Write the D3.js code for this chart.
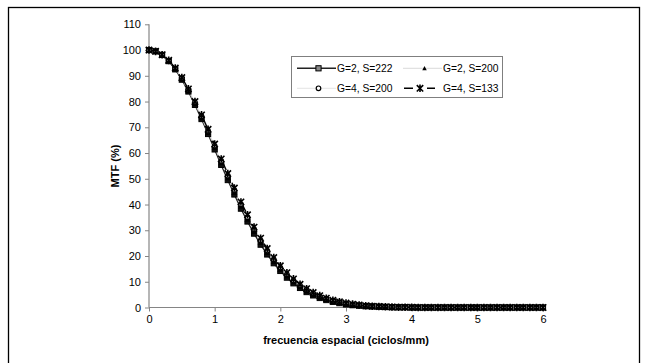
<!DOCTYPE html>
<html><head><meta charset="utf-8">
<script src="https://cdn.jsdelivr.net/npm/d3@7/dist/d3.min.js"></script>
<style>body{margin:0;background:#fff}svg{display:block}text{font-family:"Liberation Sans",Arial,sans-serif}</style>
</head><body><svg id="c" width="647" height="363"></svg>
<script>
const freq = [0,0.1,0.2,0.3,0.4,0.5,0.6,0.7,0.8,0.9,
1,1.1,1.2,1.3,1.4,1.5,1.6,1.7,1.8,1.9,
2,2.1,2.2,2.3,2.4,2.5,2.6,2.7,2.8,2.9,
3,3.1,3.2,3.3,3.4,3.5,3.6,3.7,3.8,3.9,
4,4.1,4.2,4.3,4.4,4.5,4.6,4.7,4.8,4.9,
5,5.1,5.2,5.3,5.4,5.5,5.6,5.7,5.8,5.9,6];
const g2s222 = [100,99.5,98.1,95.7,92.5,88.5,83.9,78.7,73.2,67.4,
61.4,55.4,49.5,43.9,38.4,33.4,28.7,24.4,20.6,17.2,
14.2,11.6,9.4,7.6,6.0,4.7,3.7,2.9,2.2,1.7,
1.2,0.9,0.7,0.5,0.4,0.3,0.2,0.1,0.1,0.1,
0,0,0,0,0,0,0,0,0,0,
0,0,0,0,0,0,0,0,0,0,0];
const g2s200 = [100,99.5,98.1,95.8,92.7,88.8,84.2,79.1,73.7,68.0,
62.1,56.2,50.4,44.7,39.3,34.3,29.5,25.2,21.4,17.9,
14.9,12.2,10.0,8.1,6.4,5.1,4.0,3.1,2.4,1.9,
1.4,1.0,0.8,0.6,0.4,0.3,0.2,0.1,0.1,0.1,
0,0,0,0,0,0,0,0,0,0,
0,0,0,0,0,0,0,0,0,0,0];
const g4s200 = [100,99.5,98.2,95.9,92.8,89.0,84.6,79.6,74.3,68.6,
62.8,56.9,51.2,45.6,40.1,35.1,30.4,26.1,22.1,18.7,
15.5,12.9,10.5,8.5,6.9,5.4,4.3,3.4,2.6,2.0,
1.5,1.2,0.9,0.6,0.5,0.4,0.3,0.2,0.1,0.1,
0,0,0,0,0,0,0,0,0,0,
0,0,0,0,0,0,0,0,0,0,0];
const g4s133 = [100,99.5,98.2,96.0,93.0,89.3,84.9,80.0,74.8,69.2,
63.5,57.7,52.0,46.4,41.0,36.0,31.2,26.9,22.9,19.4,
16.2,13.5,11.1,9.0,7.3,5.8,4.6,3.6,2.8,2.2,
1.7,1.3,1.0,0.7,0.5,0.4,0.3,0.2,0.1,0.1,
0.1,0,0,0,0,0,0,0,0,0,
0,0,0,0,0,0,0,0,0,0,0];
const seriesNames = ["G=2, S=222","G=2, S=200","G=4, S=200","G=4, S=133"];
const xTicks = [0,1,2,3,4,5,6];
const yTicks = [0,10,20,30,40,50,60,70,80,90,100,110];

const svg = d3.select("#c");
const x = d3.scaleLinear().domain([0,6]).range([149,543]);
const y = d3.scaleLinear().domain([0,110]).range([307.5,24.3]);

// frame
svg.append("rect").attr("x",8.5).attr("y",7.5).attr("width",631).attr("height",380)
  .attr("fill","none").attr("stroke","#000").attr("stroke-width",1.3);

const styles = [
  {vals:g2s222, line:"#222", w:1.4, dash:null, marker:"square"},
  {vals:g2s200, line:"#d0d0d0", w:0.8, dash:null, marker:"triangle"},
  {vals:g4s200, line:"#dcdcdc", w:0.8, dash:null, marker:"circle"},
  {vals:g4s133, line:"#000", w:1.4, dash:"9,14", marker:"star"}
];

// axes
const gx = svg.append("g").attr("transform","translate(0,307.5)")
  .call(d3.axisBottom(x).tickValues(xTicks).tickSize(4).tickPadding(4).tickFormat(d3.format("d")));
const gy = svg.append("g").attr("transform","translate(149,0)")
  .call(d3.axisLeft(y).tickValues(yTicks).tickSize(4).tickPadding(4).tickFormat(d3.format("d")));
[gx,gy].forEach(g=>{
  g.selectAll(".domain").attr("stroke","#858585").attr("stroke-width",1.2);
  g.selectAll(".tick line").attr("stroke","#858585");
  g.selectAll(".tick text").attr("fill","#000").style("font-size","11px").style("font-family","'Liberation Sans',Arial,sans-serif");
});
gx.select(".domain").attr("d","M149,0H543");
gy.select(".domain").attr("d","M0,307.5V24.3");

function drawMarker(g, type, cx, cy, s){
  if(type==="square"){
    g.append("rect").attr("x",cx-2.6).attr("y",cy-2.6).attr("width",5.2).attr("height",5.2)
      .attr("fill",s?"#888":"#111").attr("stroke","#000").attr("stroke-width",1);
  } else if(type==="triangle"){
    const k = s?0.75:1;
    g.append("path").attr("d",`M${cx},${cy-3*k}L${cx+3*k},${cy+2.5*k}L${cx-3*k},${cy+2.5*k}Z`).attr("fill","#000");
  } else if(type==="circle"){
    g.append("circle").attr("cx",cx).attr("cy",cy).attr("r",2.3).attr("fill","#fff").attr("stroke","#000").attr("stroke-width",1.2);
  } else {
    const r=3.2;
    g.append("path").attr("d",`M${cx-r},${cy-r}L${cx+r},${cy+r}M${cx+r},${cy-r}L${cx-r},${cy+r}M${cx},${cy-r-0.6}V${cy+r+0.6}`)
      .attr("stroke","#000").attr("stroke-width",1.6);
  }
}

const line = d3.line().x((d,i)=>x(freq[i])).y(d=>y(d));
const plot = svg.append("g");
styles.forEach(st=>{
  const p = plot.append("path").datum(st.vals).attr("d",line).attr("fill","none")
    .attr("stroke",st.line).attr("stroke-width",st.w);
  if(st.dash) p.attr("stroke-dasharray",st.dash);
});
styles.forEach(st=>{
  const mg = plot.append("g");
  st.vals.forEach((v,i)=>drawMarker(mg, st.marker, x(freq[i]), y(v), false));
});

// axis titles
svg.append("text").attr("x",346).attr("y",344).attr("text-anchor","middle")
  .style("font-size","11px").style("font-weight","bold").text("frecuencia espacial (ciclos/mm)");
svg.append("text").attr("transform","translate(119,166) rotate(-90)").attr("text-anchor","middle")
  .style("font-size","11px").style("font-weight","bold").text("MTF (%)");

// legend
const lg = svg.append("g");
lg.append("rect").attr("x",291.5).attr("y",56.5).attr("width",211).attr("height",41)
  .attr("fill","#fff").attr("stroke","#7f7f7f").attr("stroke-width",1);
const pos = [[297,68.3],[403,68.3],[297,88.3],[403,88.3]];
styles.forEach((st,i)=>{
  const [lx,ly]=pos[i];
  const l = lg.append("line").attr("x1",lx).attr("x2",lx+39).attr("y1",ly).attr("y2",ly)
    .attr("stroke",st.line).attr("stroke-width",st.w);
  if(st.dash) l.attr("stroke-dasharray","9,14").attr("x2",lx+32).attr("x1",lx+1);
  drawMarker(lg, st.marker, lx+(st.dash?17:21.5), ly, true);
  lg.append("text").attr("x",lx+40).attr("y",ly+3.8).style("font-size","10.3px").text(seriesNames[i]);
});
</script></body></html>
